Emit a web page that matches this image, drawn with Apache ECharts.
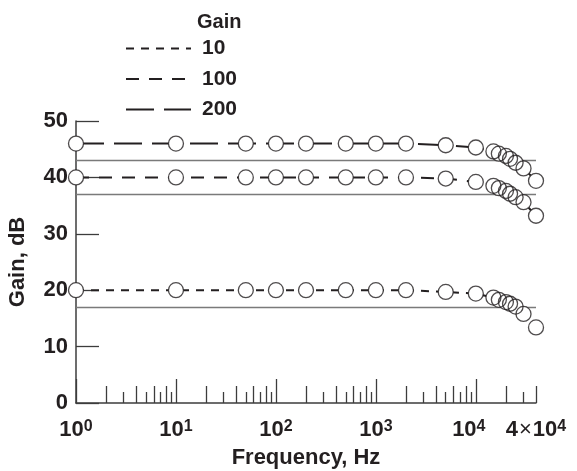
<!DOCTYPE html>
<html>
<head>
<meta charset="utf-8">
<script src="https://cdn.jsdelivr.net/npm/echarts@6/dist/echarts.min.js"></script>
<style>
  html, body { margin: 0; padding: 0; background: #ffffff; }
  #chart { width: 577px; height: 471px; }
</style>
</head>
<body>
<div id="chart"></div>
<script>
// 频率 (Hz)
const freqs = [1, 10, 50, 100, 200, 500, 1000, 2000, 5000, 10000, 15000, 17000, 20000, 22000, 25000, 30000, 40000];
// 增益 (dB)
const gain10 = [20, 20, 20, 20, 20, 20, 20, 20, 19.7, 19.4, 18.7, 18.3, 17.9, 17.6, 17.1, 15.8, 13.4];
const gain100 = [40, 40, 40, 40, 40, 40, 40, 40, 39.8, 39.2, 38.5, 38.1, 37.6, 37.1, 36.5, 35.6, 33.2];
const gain200 = [46, 46, 46, 46, 46, 46, 46, 46, 45.7, 45.3, 44.6, 44.2, 43.8, 43.3, 42.6, 41.6, 39.4];
const legendNames = ['10', '100', '200'];
// -3 dB 线
const cutoffLevels = [43, 37, 17];

// x 轴刻度
const majorTicks = [1, 10, 100, 1000, 10000];
const mediumTicks = [2, 4, 6, 8, 20, 40, 60, 80, 200, 400, 600, 800, 2000, 4000, 6000, 8000, 20000, 40000];
const shortTicks = [3, 5, 7, 9, 30, 50, 70, 90, 300, 500, 700, 900, 3000, 5000, 7000, 9000, 30000];
const labelValues = [1, 10, 100, 1000, 10000, 40000];
const labelMantissa = ['', '', '', '', '', '4'];
const labelExp = ['0', '1', '2', '3', '4', '4'];

const FONT = "'Liberation Sans', Arial, sans-serif";
const INK = '#231f20';
const AXIS = '#3c3c3c';
const dashes = [[8, 7], [13, 10], [28, 10]];
const gains = [gain10, gain100, gain200];

const chart = echarts.init(document.getElementById('chart'));

function xLabel(value) {
  const lv = Math.log10(value);
  for (let i = 0; i < labelValues.length; i++) {
    if (Math.abs(lv - Math.log10(labelValues[i])) < 1e-6) {
      const sup = i === 4 ? 'se' : 's';
      const head = labelMantissa[i] ? `{b|${labelMantissa[i]}}{x|×}` : '';
      return `${head}{b|10}{${sup}|${labelExp[i]}}`;
    }
  }
  return '';
}

function minorAxis(ticks, len) {
  return {
    type: 'log',
    logBase: 10,
    min: 1,
    max: 40000,
    position: 'bottom',
    axisLine: { show: false, onZero: false },
    axisLabel: { show: false },
    splitLine: { show: false },
    axisTick: {
      show: true,
      inside: true,
      length: len,
      customValues: ticks,
      lineStyle: { color: AXIS, width: 1.3 },
    },
  };
}

const series = [];
gains.forEach((g, i) => {
  series.push({
    name: 'line' + legendNames[i],
    type: 'line',
    data: freqs.map((f, k) => [f, g[k]]),
    symbol: 'circle',
    symbolSize: 15,
    showAllSymbol: true,
    itemStyle: { color: '#ffffff', borderWidth: 0 },
    lineStyle: { color: INK, width: 2, type: dashes[i] },
    z: 2,
  });
});
gains.forEach((g, i) => {
  series.push({
    name: 'pts' + legendNames[i],
    type: 'scatter',
    data: freqs.map((f, k) => [f, g[k]]),
    symbol: 'circle',
    symbolSize: 15,
    itemStyle: { color: 'rgba(255,255,255,0)', borderColor: INK, borderWidth: 1.3 },
    z: 4,
    markLine: i === 0 ? {
      silent: true,
      symbol: 'none',
      label: { show: false },
      lineStyle: { color: '#7a7a7a', width: 1.3, type: 'solid' },
      data: cutoffLevels.map(v => ({ yAxis: v })),
      z: 1,
    } : undefined,
  });
});
// 图例用
legendNames.forEach((n, i) => {
  series.push({
    name: n,
    type: 'line',
    data: [],
    symbol: 'none',
    itemStyle: { color: 'rgba(0,0,0,0)', borderWidth: 0 },
    lineStyle: { color: INK, width: 2, type: dashes[i] },
  });
});

const option = {
  backgroundColor: '#ffffff',
  animation: false,
  textStyle: { fontFamily: FONT },
  title: {
    text: 'Gain',
    left: 197,
    top: 12,
    padding: 0,
    textStyle: { fontSize: 20, fontWeight: 'bold', color: INK, fontFamily: FONT },
  },
  legend: {
    data: legendNames,
    orient: 'vertical',
    left: 125,
    top: 38,
    padding: 0,
    itemWidth: 65,
    itemHeight: 14,
    itemGap: 9.5,
    selectedMode: false,
    itemStyle: { opacity: 0 },
    textStyle: { fontSize: 21, fontWeight: 'bold', color: INK, fontFamily: FONT, lineHeight: 20, padding: [0, 0, 0, 6] },
  },
  grid: { left: 76, right: 41, top: 121, bottom: 68, containLabel: false, outerBoundsMode: 'none' },
  xAxis: [
    {
      type: 'log',
      logBase: 10,
      min: 1,
      max: 40000,
      position: 'bottom',
      name: 'Frequency, Hz',
      nameLocation: 'middle',
      nameGap: 44,
      nameTextStyle: { fontSize: 22, fontWeight: 'bold', color: INK, fontFamily: FONT },
      axisLine: { show: true, onZero: false, lineStyle: { color: AXIS, width: 1.5 } },
      axisTick: {
        show: true,
        inside: true,
        length: 24,
        customValues: majorTicks,
        lineStyle: { color: AXIS, width: 1.3 },
      },
      splitLine: { show: false },
      axisLabel: {
        customValues: labelValues,
        margin: 16,
        formatter: xLabel,
        rich: {
          b: { fontSize: 22, fontWeight: 'bold', color: INK, fontFamily: FONT, lineHeight: 22 },
          x: { fontSize: 22, color: INK, fontFamily: FONT, lineHeight: 22, padding: [0, 1, 0, 1] },
          s: { fontSize: 16, fontWeight: 'bold', color: INK, fontFamily: FONT, lineHeight: 16, verticalAlign: 'top' },
          se: { fontSize: 16, fontWeight: 'bold', color: INK, fontFamily: FONT, lineHeight: 16, verticalAlign: 'top', padding: [0, 14, 0, 0] },
        },
      },
    },
    minorAxis(mediumTicks, 17),
    minorAxis(shortTicks, 11),
  ],
  yAxis: {
    type: 'value',
    min: 0,
    max: 50,
    interval: 10,
    name: 'Gain, dB',
    nameLocation: 'middle',
    nameGap: 47,
    nameTextStyle: { fontSize: 22, fontWeight: 'bold', color: INK, fontFamily: FONT },
    axisLine: { show: true, lineStyle: { color: AXIS, width: 1.5 } },
    axisTick: { show: true, inside: true, length: 23, lineStyle: { color: AXIS, width: 1.3 } },
    splitLine: { show: false },
    axisLabel: { fontSize: 22, fontWeight: 'bold', color: INK, fontFamily: FONT, margin: 8 },
  },
  series,
};

chart.setOption(option);
</script>
</body>
</html>
